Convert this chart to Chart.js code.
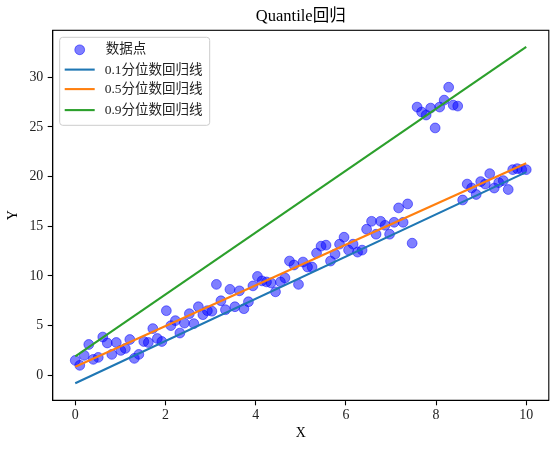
<!DOCTYPE html>
<html><head><meta charset="utf-8">
<script src="https://cdn.jsdelivr.net/npm/chart.js@4"></script>
<style>html,body{margin:0;padding:0;background:#fff}#wrap{width:558px;height:453px}</style>
</head><body><div id="wrap"><canvas id="c" width="558" height="453"></canvas></div>
<script>
const xValues=[0.00,0.10,0.20,0.30,0.40,0.51,0.61,0.71,0.81,0.91,1.01,1.11,1.21,1.31,1.41,1.52,1.62,1.72,1.82,1.92,
2.02,2.12,2.22,2.32,2.42,2.53,2.63,2.73,2.83,2.93,3.03,3.13,3.23,3.33,3.43,3.54,3.64,3.74,3.84,3.94,
4.04,4.14,4.24,4.34,4.44,4.55,4.65,4.75,4.85,4.95,5.05,5.15,5.25,5.35,5.45,5.56,5.66,5.76,5.86,5.96,
6.06,6.16,6.26,6.36,6.46,6.57,6.67,6.77,6.87,6.97,7.07,7.17,7.27,7.37,7.47,7.58,7.68,7.78,7.88,7.98,
8.08,8.18,8.28,8.38,8.48,8.59,8.69,8.79,8.89,8.99,9.09,9.19,9.29,9.39,9.49,9.60,9.70,9.80,9.90,10.00];
const yValues=[1.5,1.0,2.0,3.1,1.6,1.8,3.85,3.25,2.1,3.3,2.5,2.7,3.6,1.7,2.1,3.4,3.3,4.7,3.7,3.4,
6.5,5.0,5.5,4.25,5.25,6.2,5.2,6.9,6.1,6.5,6.45,9.15,7.5,6.6,8.65,6.9,8.5,6.7,7.4,9.0,
9.95,9.5,9.4,9.3,8.4,9.4,9.8,11.5,11.1,9.15,11.4,10.9,10.9,12.3,13.0,13.1,11.5,12.2,13.2,13.9,
12.6,13.2,12.4,12.6,14.7,15.5,14.2,15.5,15.1,14.2,15.4,16.85,15.4,17.25,13.3,27.0,26.5,26.2,26.9,24.9,
27.0,27.7,29.0,27.2,27.1,17.65,19.25,18.85,18.2,19.5,19.25,20.3,18.85,19.4,19.6,18.7,20.7,20.8,20.7,20.7];
const lineX=[0,10];
const q10Values=[-0.8,20.45];
const q50Values=[0.85,21.35];
const q90Values=[1.9,33.05];
const xTicks=[0,2,4,6,8,10];
const yTicks=[0,5,10,15,20,25,30];
const seriesLabels=['数据点','0.1分位数回归线','0.5分位数回归线','0.9分位数回归线'];
const titleText='Quantile回归';
const xTitle='X', yTitle='Y';

const FONT="'Liberation Serif','Noto Sans CJK SC',serif";
const pts=(xs,ys)=>xs.map((x,i)=>({x:x,y:ys[i]}));
const colors=['rgba(0,0,255,0.5)','#1f77b4','#ff7f0e','#2ca02c'];

const decor={
  id:'decor',
  afterDraw(chart){
    const ctx=chart.ctx, a=chart.chartArea;
    ctx.save();
    // frame
    ctx.strokeStyle='#000';ctx.lineWidth=1.1;
    ctx.strokeRect(a.left,a.top,a.right-a.left,a.bottom-a.top);
    // title
    ctx.fillStyle='#000';ctx.textAlign='center';ctx.textBaseline='middle';
    ctx.font='16.5px '+FONT;
    ctx.fillText(titleText,(a.left+a.right)/2,17);
    // legend
    const lx=a.left+7, ly=a.top+7, lw=150, lh=88;
    ctx.beginPath();
    if(ctx.roundRect) ctx.roundRect(lx,ly,lw,lh,3); else ctx.rect(lx,ly,lw,lh);
    ctx.fillStyle='rgba(255,255,255,0.8)';ctx.fill();
    ctx.strokeStyle='#cccccc';ctx.lineWidth=1;ctx.stroke();
    ctx.font='13.5px '+FONT;ctx.textAlign='left';ctx.textBaseline='middle';
    const rowY=[ly+12.5,ly+33,ly+52.5,ly+73.5];
    // scatter marker
    ctx.beginPath();ctx.arc(lx+20,rowY[0],4.9,0,Math.PI*2);
    ctx.fillStyle=colors[0];ctx.fill();ctx.strokeStyle=colors[0];ctx.lineWidth=1;ctx.stroke();
    ctx.fillStyle='#222';ctx.fillText(seriesLabels[0],lx+46,rowY[0]);
    for(let i=1;i<4;i++){
      ctx.beginPath();ctx.moveTo(lx+5,rowY[i]-0.7);ctx.lineTo(lx+35,rowY[i]-0.7);
      ctx.strokeStyle=colors[i];ctx.lineWidth=2.1;ctx.stroke();
      ctx.fillStyle='#222';ctx.fillText(seriesLabels[i],lx+45,rowY[i]);
    }
    ctx.restore();
  }
};

new Chart(document.getElementById('c'),{
  type:'scatter',
  data:{datasets:[
    {label:seriesLabels[0],data:pts(xValues,yValues),backgroundColor:colors[0],borderColor:colors[0],borderWidth:1,pointRadius:4.9,pointHoverRadius:4.9,order:4},
    {type:'line',label:seriesLabels[1],data:pts(lineX,q10Values),borderColor:colors[1],borderWidth:2.1,pointRadius:0,fill:false,order:3},
    {type:'line',label:seriesLabels[2],data:pts(lineX,q50Values),borderColor:colors[2],borderWidth:2.1,pointRadius:0,fill:false,order:2},
    {type:'line',label:seriesLabels[3],data:pts(lineX,q90Values),borderColor:colors[3],borderWidth:2.1,pointRadius:0,fill:false,order:1}
  ]},
  options:{
    responsive:false,animation:false,devicePixelRatio:1,
    layout:{padding:{top:30.3,right:9.2,left:0,bottom:0}},
    plugins:{legend:{display:false},title:{display:false},tooltip:{enabled:false}},
    scales:{
      x:{type:'linear',min:-0.5,max:10.5,
        afterFit(s){s.height=52.7;},
        afterBuildTicks(s){s.ticks=xTicks.map(v=>({value:v}));},
        grid:{display:true,drawOnChartArea:false,drawTicks:true,tickLength:5,tickColor:'#000',tickWidth:1.1},
        border:{display:true,color:'#000',width:1.1},
        ticks:{padding:2,color:'#222',font:{family:FONT,size:13.9},maxRotation:0,autoSkip:false},
        title:{display:true,text:xTitle,color:'#000',font:{family:FONT,size:13.9},padding:{top:0,bottom:11.6}}
      },
      y:{type:'linear',min:-2.52,max:34.73,
        afterFit(s){s.width=52.7;},
        afterBuildTicks(s){s.ticks=yTicks.map(v=>({value:v}));},
        grid:{display:true,drawOnChartArea:false,drawTicks:true,tickLength:5,tickColor:'#000',tickWidth:1.1},
        border:{display:true,color:'#000',width:1.1},
        ticks:{padding:4.4,color:'#222',font:{family:FONT,size:13.9},autoSkip:false},
        title:{display:true,text:yTitle,color:'#000',font:{family:FONT,size:13.9},padding:{top:4.6,bottom:0}}
      }
    }
  },
  plugins:[decor]
});
</script></body></html>
